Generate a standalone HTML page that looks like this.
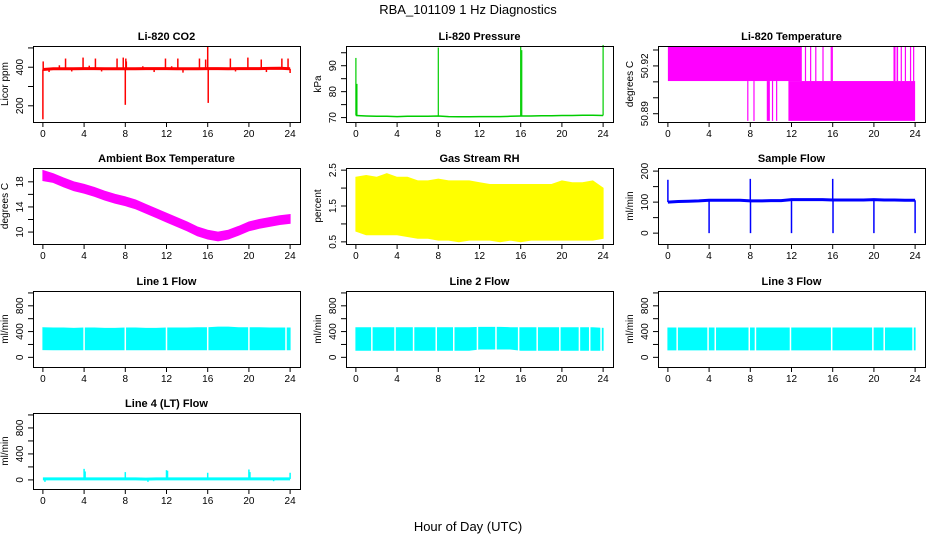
<!DOCTYPE html>
<html><head><meta charset="utf-8"><style>
body{margin:0;background:#fff;}
svg{display:block;font-family:"Liberation Sans",sans-serif;}
</style></head><body>
<svg id="chart" width="936" height="540" viewBox="0 0 936 540">
<text x="468" y="14" text-anchor="middle" font-size="13">RBA_101109  1 Hz Diagnostics</text>
<text x="468" y="531" text-anchor="middle" font-size="13">Hour of Day (UTC)</text>
</svg>
<script>
// ---- data arrays ----
const hourTicks = [0,4,8,12,16,20,24];
const hours = [0,1,2,3,4,5,6,7,8,9,10,11,12,13,14,15,16,17,18,19,20,21,22,23,24];
// CO2
const co2Base = [388,392,392,392,393,393,392,392,392,392,393,393,393,392,392,392,393,393,392,393,393,393,394,395,392];
const co2SpikeHours = [0.0,0.03,1.6,2.2,3.9,4.5,5.1,7.2,7.8,8.0,8.05,8.1,9.7,11.9,12.5,13.1,15.2,15.8,16.0,16.05,18.2,19.9,21.2,23.2,23.8,0.6,2.8,5.7,10.8,13.6,18.7,21.7,24.0];
const co2SpikeVals  = [130,430,410,445,450,408,445,445,450,205,445,430,405,445,405,445,445,440,510,215,445,450,440,445,445,375,378,378,375,372,378,375,370];
// Pressure
const presBase = [70.8,70.6,70.5,70.5,70.4,70.5,70.5,70.5,70.6,70.4,70.3,70.3,70.4,70.4,70.4,70.5,70.6,70.6,70.7,70.7,70.8,70.8,70.9,70.9,70.8];
const presSpikeHours = [0.0,0.1,8.0,16.0,16.1,24.0];
const presSpikeVals  = [93,83,97,97.5,96,98];
// Li-820 temperature segments
const tSegStart = [0,7.7,8.3,9.6,10.1,10.5,11.7,13.3,13.8,14.3,15.0,15.8,15.9,21.9,22.2,22.6,23.0,23.5,23.8];
const tSegEnd   = [13.0,7.75,8.35,9.9,10.15,10.55,24.0,13.35,13.85,14.35,15.05,15.85,15.95,22.1,22.35,22.7,23.1,23.6,23.9];
const tSegLo    = [50.9105,50.8855,50.8855,50.8855,50.8855,50.8855,50.8855,50.9105,50.9105,50.9105,50.9105,50.9105,50.9105,50.9105,50.9105,50.9105,50.9105,50.9105,50.9105];
const tSegHi    = [50.932,50.9105,50.9105,50.9105,50.9105,50.9105,50.9105,50.932,50.932,50.932,50.932,50.932,50.932,50.932,50.932,50.932,50.932,50.932,50.932];
// Ambient box temperature
const ambCenter = [19.0,18.6,17.9,17.3,16.9,16.4,15.8,15.3,14.9,14.4,13.7,13.0,12.3,11.6,10.9,10.1,9.6,9.3,9.6,10.2,10.9,11.3,11.6,11.9,12.1];
const ambHalf = [0.8,0.7,0.7,0.7,0.7,0.7,0.7,0.7,0.7,0.7,0.7,0.7,0.7,0.7,0.7,0.7,0.7,0.7,0.7,0.7,0.7,0.7,0.7,0.7,0.7];
// Gas stream RH
const rhUpper = [2.3,2.35,2.3,2.4,2.3,2.3,2.2,2.2,2.25,2.2,2.2,2.2,2.15,2.1,2.1,2.1,2.1,2.1,2.1,2.1,2.2,2.15,2.15,2.2,2.0];
const rhLower = [0.8,0.7,0.7,0.7,0.7,0.65,0.6,0.6,0.55,0.55,0.5,0.55,0.55,0.55,0.5,0.55,0.5,0.55,0.55,0.55,0.55,0.55,0.55,0.55,0.6];
// Sample flow
const sfBase = [100,102,103,104,106,106,106,106,104,104,105,105,108,108,108,108,107,107,107,107,108,107,107,106,106];
const sfSpikeHours = [0.0,4.0,8.0,8.02,12.0,16.0,16.03,20.0,24.0];
const sfSpikeVals  = [172,0,175,0,0,175,0,0,0];
// Line flows
const l1Lower = [120,118,118,118,118,118,118,118,118,118,118,118,118,118,118,118,118,118,118,118,118,118,118,118,118];
const l1Upper = [460,455,455,450,455,455,450,450,455,455,450,450,455,455,455,460,460,470,470,460,460,460,455,455,455];
const l1Gaps = [4,8,12,16,20,23.6];
const l2Lower = [110,110,110,110,110,110,110,110,110,110,110,110,130,130,130,130,110,110,110,110,110,110,110,110,110];
const l2Upper = [460,460,460,460,460,460,460,460,460,460,460,460,465,465,465,460,460,460,460,460,460,460,460,460,450];
const l2Gaps = [1.55,3.8,5.6,7.8,9.5,11.8,13.6,15.8,17.6,19.8,21.7,22.7,23.8];
const l3Lower = [115,115,115,115,115,115,115,115,115,115,115,115,115,115,115,115,115,115,115,115,115,115,115,115,115];
const l3Upper = [455,455,455,455,455,455,455,455,455,455,455,455,455,455,455,455,455,455,455,455,455,455,455,455,455];
const l3Gaps = [0.9,3.9,4.6,7.9,8.5,11.9,15.9,19.9,21.0,23.8];
// Line 4 flow
const l4Base = [15,15,15,15,15,15,15,15,15,15,12,15,15,15,15,15,15,15,15,15,15,15,15,15,15];
const l4SpikeHours = [4.0,4.1,8.0,12.0,12.1,16.0,20.0,20.1,24.0,0.2,10.2,22.4];
const l4SpikeVals  = [170,130,120,150,140,110,160,120,110,-30,-30,-20];

// ---- drawing ----
const svg = document.getElementById('chart');
const NS = 'http://www.w3.org/2000/svg';
function mk(tag, attrs, parent){const e=document.createElementNS(NS,tag);for(const k in attrs)e.setAttribute(k,attrs[k]);(parent||svg).appendChild(e);return e;}
const W=267,H=76,XMIN=-0.96,XMAX=24.96;
function panel(name,title,ylabel,left,top,ymin,ymax,yticks,ylabels){
  const g=mk('g',{});
  
  
  const xs=h=>left+(h-XMIN)/(XMAX-XMIN)*W;
  const ys=v=>top+(ymax-v)/(ymax-ymin)*H;
  const t=mk('text',{x:left+W/2,y:top-6,'text-anchor':'middle','font-size':'11','font-weight':'bold'},g);
  t.textContent=title;
  
  
  const yl=mk('text',{x:0,y:0,'text-anchor':'middle','font-size':'10',transform:`translate(${left-25},${top+H/2}) rotate(-90)`},g);
  yl.textContent=ylabel;
  
  
  const ax=mk('g',{stroke:'#000','stroke-width':'1',fill:'none'},g);
  
  
  mk('line',{x1:xs(0),x2:xs(24),y1:top+H+0.5,y2:top+H+0.5},ax);
  hourTicks.forEach(h=>{
    mk('line',{x1:xs(h),x2:xs(h),y1:top+H,y2:top+H+5},ax);
    const tl=mk('text',{x:xs(h),y:top+H+15,'text-anchor':'middle','font-size':'10',stroke:'none',fill:'#000'},g);
    tl.textContent=h;
    
    
  });
  const ay=mk('g',{stroke:'#000','stroke-width':'1',fill:'none'},g);
  
  
  mk('line',{x1:left+0.5,x2:left+0.5,y1:ys(yticks[0]),y2:ys(yticks[yticks.length-1])},ay);
  yticks.forEach((v,i)=>{
    mk('line',{x1:left-5,x2:left,y1:ys(v),y2:ys(v)},ay);
    if(ylabels[i]!==''){
      const tl=mk('text',{x:0,y:0,'text-anchor':'middle','font-size':'10',stroke:'none',fill:'#000',transform:`translate(${left-10},${ys(v)}) rotate(-90)`},g);
      tl.textContent=ylabels[i];
      
      
    }
  });
  const plot=mk('g',{},g);
  
  
  const box=mk('rect',{x:left+0.5,y:top+0.5,width:W,height:H,fill:'none',stroke:'#000'},g);
  
  
  return {g:plot,xs,ys};
}
function baseLine(p,vals,color,w){
  const pts=hours.map((h,i)=>p.xs(h).toFixed(1)+','+p.ys(vals[i]).toFixed(1)).join(' ');
  const l=mk('polyline',{points:pts,fill:'none',stroke:color,'stroke-width':w},p.g);
  
  
}
function baseAt(vals,h){const i=Math.max(0,Math.min(23,Math.floor(h)));const f=h-i;return vals[i]+(vals[i+1]-vals[i])*f;}
function spikes(p,base,hs,vs,color,w){
  hs.forEach((h,i)=>{
    const l=mk('line',{x1:p.xs(h),x2:p.xs(h),y1:p.ys(baseAt(base,h)),y2:p.ys(vs[i]),stroke:color,'stroke-width':w},p.g);
    
    
  });
}
function band(p,lower,upper,color){
  const up=hours.map((h,i)=>p.xs(h).toFixed(1)+','+p.ys(upper[i]).toFixed(1));
  const lo=hours.map((h,i)=>p.xs(h).toFixed(1)+','+p.ys(lower[i]).toFixed(1)).reverse();
  const poly=mk('polygon',{points:up.concat(lo).join(' '),fill:color,stroke:color,'stroke-width':'1'},p.g);
  
  
}
function gaps(p,gs,lower,upper){
  gs.forEach(h=>{
    const l=mk('line',{x1:p.xs(h),x2:p.xs(h),y1:p.ys(baseAt(upper,h))-1,y2:p.ys(baseAt(lower,h))+1,stroke:'#fff','stroke-width':'1.5'},p.g);
    
    
  });
}
const C1=33,C2=346,C3=658,R1=46,R2=168,R3=291,R4=413;
const flowTicks=[0,200,400,600,800,1000],flowLabels=['0','','400','','800',''];

// Panel 1 CO2
let p=panel('co2','Li-820 CO2','Licor ppm',C1,R1,116,510,[200,300,400,500],['200','','400','']);
baseLine(p,co2Base,'#ff0000',3);
spikes(p,co2Base,co2SpikeHours,co2SpikeVals,'#ff0000',1.5);
// Panel 2 pressure
p=panel('pressure','Li-820 Pressure','kPa',C2,R1,68.3,97.6,[70,75,80,85,90,95],['70','','80','','90','']);
baseLine(p,presBase,'#00cd00',1.5);
spikes(p,presBase,presSpikeHours,presSpikeVals,'#00cd00',1.2);
// Panel 3 temperature
p=panel('li820-temp','Li-820 Temperature','degrees C',C3,R1,50.8848,50.9325,[50.89,50.90,50.91,50.92,50.93],['50.89','','','50.92','']);
tSegStart.forEach((s,i)=>{
  const x0=p.xs(s),x1=Math.max(p.xs(tSegEnd[i]),x0+1.2);
  const r=mk('rect',{x:x0,y:p.ys(tSegHi[i]),width:x1-x0,height:p.ys(tSegLo[i])-p.ys(tSegHi[i]),fill:'#ff00ff'},p.g);
  
  
});
// Panel 4 ambient
p=panel('ambient-temp','Ambient Box Temperature','degrees C',C1,R2,8.1,20.2,[10,12,14,16,18],['10','','14','','18']);
band(p,ambCenter.map((c,i)=>c-ambHalf[i]),ambCenter.map((c,i)=>c+ambHalf[i]),'#ff00ff');
// Panel 5 RH
p=panel('gas-rh','Gas Stream RH','percent',C2,R2,0.44,2.56,[0.5,1.0,1.5,2.0,2.5],['0.5','','1.5','','2.5']);
band(p,rhLower,rhUpper,'#ffff00');
// Panel 6 sample flow
p=panel('sample-flow','Sample Flow','ml/min',C3,R2,-35,210,[0,50,100,150,200],['0','','100','','200']);
baseLine(p,sfBase,'#0000ff',3);
spikes(p,sfBase,sfSpikeHours,sfSpikeVals,'#0000ff',1.5);
// Panels 7-9 line flows
p=panel('line1-flow','Line 1 Flow','ml/min',C1,R3,-150,1030,flowTicks,flowLabels);
band(p,l1Lower,l1Upper,'#00ffff');gaps(p,l1Gaps,l1Lower,l1Upper);
p=panel('line2-flow','Line 2 Flow','ml/min',C2,R3,-150,1030,flowTicks,flowLabels);
band(p,l2Lower,l2Upper,'#00ffff');gaps(p,l2Gaps,l2Lower,l2Upper);
p=panel('line3-flow','Line 3 Flow','ml/min',C3,R3,-150,1030,flowTicks,flowLabels);
band(p,l3Lower,l3Upper,'#00ffff');gaps(p,l3Gaps,l3Lower,l3Upper);
// Panel 10 line 4
p=panel('line4-flow','Line 4 (LT) Flow','ml/min',C1,R4,-140,1030,flowTicks,flowLabels);
baseLine(p,l4Base,'#00ffff',3);
spikes(p,l4Base,l4SpikeHours,l4SpikeVals,'#00ffff',1.5);
</script>
</body></html>
